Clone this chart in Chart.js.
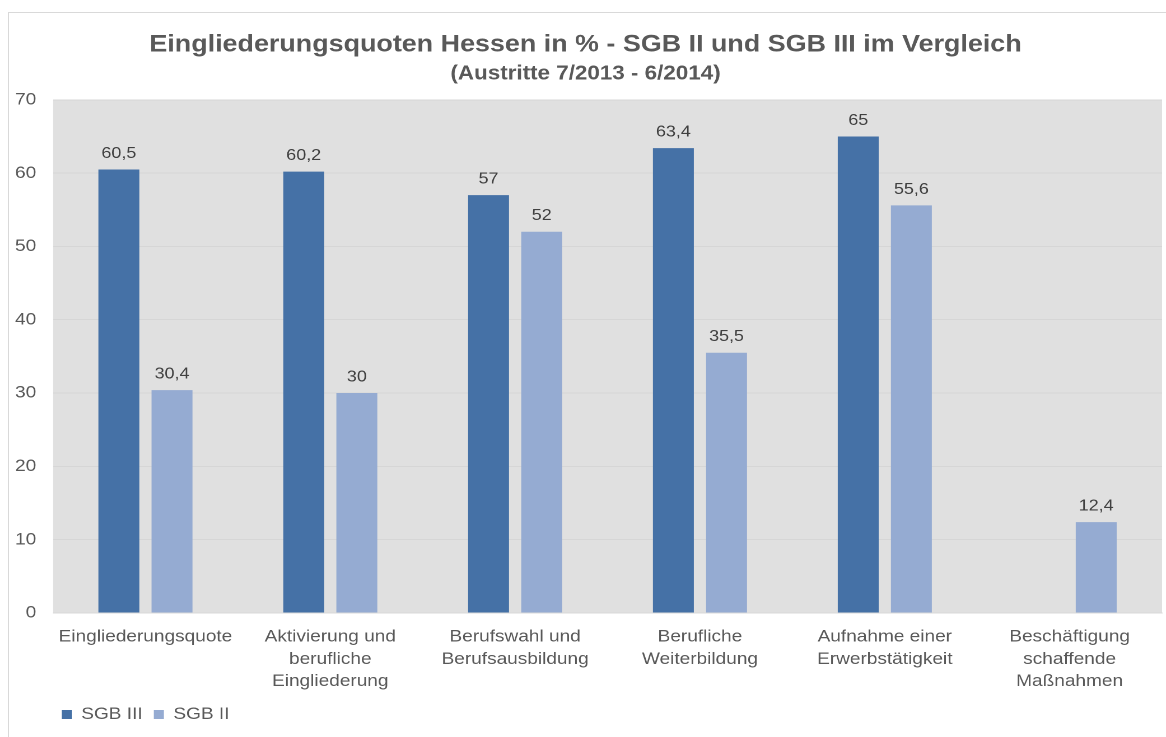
<!DOCTYPE html>
<html>
<head>
<meta charset="utf-8">
<script src="https://cdn.jsdelivr.net/npm/chart.js@4/dist/chart.umd.min.js"></script>
<style>
  html, body { margin: 0; padding: 0; background: #fff; width: 1166px; height: 737px; overflow: hidden; }
  #box { position: absolute; left: 8px; top: 12px; width: 1170px; height: 740px; border: 1px solid #d9d9d9; box-sizing: border-box; }
  /* the source picture is slightly stretched horizontally */
  #wrap { position: absolute; left: 9px; top: 13px; width: 1033px; height: 724px; transform: scaleX(1.12); transform-origin: 0 0; }
</style>
</head>
<body>
<div id="box"></div>
<div id="wrap"><canvas id="chart"></canvas></div>
<script>
// Eingliederungsquoten Hessen - SGB II / SGB III
const categories = [
    'Eingliederungsquote',
    ['Aktivierung und', 'berufliche', 'Eingliederung'],
    ['Berufswahl und', 'Berufsausbildung'],
    ['Berufliche', 'Weiterbildung'],
    ['Aufnahme einer', 'Erwerbstätigkeit'],
    ['Beschäftigung', 'schaffende', 'Maßnahmen']
];
const sgb3Values = [60.5, 60.2, 57, 63.4, 65, null];
const sgb2Values = [30.4, 30, 52, 35.5, 55.6, 12.4];
const yTicks = [0, 10, 20, 30, 40, 50, 60, 70];

const textColor = '#595959';
const fontFamily = '"Liberation Sans", Arial, sans-serif';

// gray plot background
const plotBg = {
    id: 'plotBg',
    beforeDraw(chart) {
        const { ctx, chartArea: a } = chart;
        ctx.save();
        ctx.fillStyle = '#e0e0e0';
        ctx.fillRect(a.left, a.top, a.right - a.left, a.bottom - a.top);
        ctx.restore();
    }
};

// push the legend a bit to the right, like in the original
const legendShift = {
    id: 'legendShift',
    afterLayout(chart) {
        if (chart.legend) {
            chart.legend.left += 37;
            chart.legend.right += 37;
        }
    }
};

// value labels above bars
const valueLabels = {
    id: 'valueLabels',
    afterDatasetsDraw(chart) {
        const ctx = chart.ctx;
        ctx.save();
        ctx.font = '16px ' + fontFamily;
        ctx.fillStyle = '#404040';
        ctx.textAlign = 'center';
        ctx.textBaseline = 'bottom';
        chart.data.datasets.forEach((ds, i) => {
            chart.getDatasetMeta(i).data.forEach((bar, j) => {
                const v = ds.data[j];
                if (v == null) return;
                ctx.fillText(String(v).replace('.', ','), bar.x, bar.y - 8);
            });
        });
        ctx.restore();
    }
};

new Chart(document.getElementById('chart'), {
    type: 'bar',
    data: {
        labels: categories,
        datasets: [
            { label: 'SGB III', data: sgb3Values, backgroundColor: '#4571a6' },
            { label: 'SGB II', data: sgb2Values, backgroundColor: '#95abd2' }
        ]
    },
    options: {
        responsive: true,
        maintainAspectRatio: false,
        animation: false,
        devicePixelRatio: 2,
        layout: { padding: { left: 0, right: 3.5, bottom: 4 } },
        datasets: { bar: { categoryPercentage: 0.575, barPercentage: 0.77 } },
        plugins: {
            title: {
                display: true,
                text: 'Eingliederungsquoten Hessen in % - SGB II und SGB III im Vergleich',
                color: textColor,
                font: { family: fontFamily, size: 24, weight: 'bold' },
                padding: { top: 17.5, bottom: 2.5 }
            },
            subtitle: {
                display: true,
                text: '(Austritte 7/2013 - 6/2014)',
                color: textColor,
                font: { family: fontFamily, size: 20, weight: 'bold' },
                padding: { top: 0, bottom: 14 }
            },
            legend: {
                position: 'bottom',
                align: 'start',
                labels: {
                    color: textColor,
                    font: { family: fontFamily, size: 17 },
                    boxWidth: 9,
                    boxHeight: 9,
                    padding: 10
                }
            },
            tooltip: { enabled: false }
        },
        scales: {
            x: {
                grid: { display: false },
                border: { color: '#d9d9d9', width: 1 },
                ticks: {
                    color: textColor,
                    font: { family: fontFamily, size: 17, lineHeight: 1.3 },
                    maxRotation: 0,
                    autoSkip: false,
                    padding: 5
                },
                afterFit(scale) { scale.height = 83; }
            },
            y: {
                min: 0,
                max: 70,
                afterBuildTicks(scale) { scale.ticks = yTicks.map(v => ({ value: v })); },
                grid: { color: '#d6d6d6', drawTicks: false },
                border: { display: false },
                ticks: {
                    color: textColor,
                    font: { family: fontFamily, size: 17 },
                    padding: 15
                },
                afterFit(scale) { scale.width = 39.3; }
            }
        }
    },
    plugins: [plotBg, legendShift, valueLabels]
});
</script>
</body>
</html>
